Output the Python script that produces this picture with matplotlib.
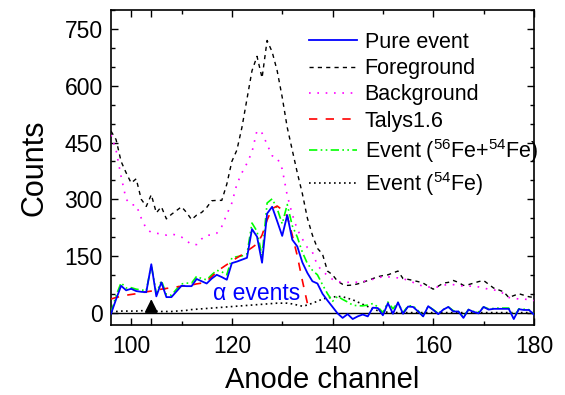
import numpy as np
import matplotlib
matplotlib.use("Agg")
import matplotlib.pyplot as plt
from matplotlib.ticker import MultipleLocator, FixedLocator

plt.rcParams['font.family'] = ['Liberation Sans', 'DejaVu Sans']
plt.rcParams['mathtext.fontset'] = 'custom'
plt.rcParams['mathtext.rm'] = 'Liberation Sans'
plt.rcParams['mathtext.it'] = 'Liberation Sans:italic'

# Anode channels 96..180
channels = np.arange(96, 181)

pure_event = [
    -3, 35, 71, 59, 63, 57, 55, 54, 128, 43,
    80, 41, 41, 56, 71, 70, 70, 89, 83, 77,
    90, 100, 94, 87, 131, 135, 140, 145, 221, 201,
    132, 262, 280, 242, 203, 258, 193, 175, 133, 105,
    83, 77, 50, 32, 15, -2, -14, -4, -17, -10,
    -5, -10, 13, 12, -7, 25, -3, 27, -3, 16,
    15, 3, -10, 17, 7, -4, 8, 15, 3, 3,
    -14, 8, 2, -2, 15, 8, 10, 10, 10, 10,
    -17, 9, 7, 7, -5,
]

foreground = [
    480, 458, 400, 370, 343, 354, 300, 281, 312, 264,
    280, 248, 260, 270, 280, 265, 246, 258, 265, 278,
    296, 297, 297, 340, 400, 430, 490, 565, 640, 678,
    621, 720, 690, 640, 570, 490, 430, 370, 315, 250,
    205, 170, 155, 110, 100, 83, 75, 72, 73, 76,
    80, 85, 90, 95, 98, 100, 105, 110, 90, 88,
    85, 82, 78, 70, 62, 70, 78, 80, 85, 80,
    72, 74, 78, 82, 85, 75, 65, 60, 55, 40,
    45, 50, 46, 42, 40,
]

background = [
    470, 430, 360, 300, 285, 285, 250, 222, 212, 210,
    208, 205, 208, 205, 200, 190, 180, 180, 195, 205,
    205, 210, 228, 260, 290, 340, 370, 395, 425, 482,
    475, 445, 415, 410, 380, 310, 260, 220, 195, 172,
    160, 125, 110, 98, 88, 82, 80, 80, 82, 80,
    82, 85, 88, 92, 95, 95, 92, 92, 90, 85,
    80, 74, 70, 68, 66, 68, 72, 75, 74, 72,
    70, 70, 70, 68, 65, 62, 60, 58, 50, 40,
    38, 36, 36, 34, 32,
]

event_56_54 = [
    0, 45, 79, 65, 66, 62, 60, 58, 125, 50,
    85, 48, 46, 62, 76, 78, 78, 96, 90, 87,
    100, 112, 108, 100, 145, 148, 150, 155, 237, 215,
    150, 290, 301, 275, 235, 286, 230, 200, 160, 130,
    112, 100, 74, 50, 30, 43, 35, 28, 20, 18,
    18, 20, 24, 15, 0, 28, 10, 27, 0, 18,
    18, 5, -10, 17, 8, -2, 8, 15, 5, 3,
    -12, 8, 3, 2, 15, 10, 11, 12, 12, 12,
    -15, 10, 9, 8, -4,
]

event_54 = [
    3, 3, 4, 4, 4, 4, 5, 5, 5, 4,
    3, 3, 3, 4, 5, 6, 8, 9, 10, 11,
    12, 13, 14, 15, 16, 17, 18, 19, 20, 21,
    22, 23, 24, 25, 25, 25, 23, 20, 17, 20,
    25, 30, 36, 39, 41, 43, 42, 38, 34, 28,
    22, 16, 10, 5, 2, 1, 0, 0, 0, 0,
    0, 0, 0, 0, 0, 0, 0, 0, 0, 0,
    0, 0, 0, 0, 0, 0, 0, 0, 0, 0,
    0, 0, 0, 0, 0,
]

# TALYS 1.6 calculation, channels 96..135
talys_channels = np.arange(96, 136)
talys = [
    36, 40, 43, 46, 48, 50, 52, 55, 57, 60,
    62, 64, 66, 68, 70, 72, 73, 76, 78, 83,
    95, 108, 118, 127, 136, 145, 153, 163, 172, 182,
    205, 245, 275, 282, 272, 255, 205, 150, 85, 25,
]

arrow_channel = 104
arrow_tip = 43

fig = plt.figure(figsize=(5.65, 3.95), dpi=100)
ax = fig.add_axes([0.1965, 0.177, 0.7485, 0.798])

ax.axhline(0, color='black', lw=1.0, zorder=1)

ax.plot(channels, pure_event, color='#0000ff', lw=1.3, label='Pure event', zorder=6)
ax.plot(channels, foreground, color='black', lw=1.0, ls=(0, (3, 3)), label='Foreground', zorder=3)
ax.plot(channels, background, color='#ff00ff', lw=1.2, ls=(0, (1, 4)), label='Background', zorder=3)
ax.plot(talys_channels, talys, color='#ff0000', lw=1.2, ls=(0, (5, 5)), label='Talys1.6', zorder=5)
ax.plot(channels, event_56_54, color='#00ff00', lw=1.2, ls=(0, (5, 2, 1, 2, 1, 2)),
        label='Event ($^{56}$Fe+$^{54}$Fe)', zorder=4)
ax.plot(channels, event_54, color='black', lw=1.2, ls=(0, (1, 2)),
        label='Event ($^{54}$Fe)', zorder=3)

ax.annotate('', xy=(arrow_channel, arrow_tip), xytext=(arrow_channel, 0),
            arrowprops=dict(arrowstyle='-|>,head_length=0.8,head_width=0.4',
                            color='black', lw=1.2), zorder=7)

ax.text(116.3, 33, 'α events', color='#0000ff', fontsize=16.5, va='baseline', ha='left')

ax.set_xlim(96, 180)
ax.set_ylim(-33, 801)
ax.xaxis.set_major_locator(FixedLocator([100, 104, 120, 140, 160, 180]))
ax.xaxis.set_minor_locator(FixedLocator([110, 130, 150, 170]))
ax.set_xticklabels(['100', '', '120', '140', '160', '180'])
ax.yaxis.set_major_locator(MultipleLocator(150))
ax.yaxis.set_minor_locator(MultipleLocator(50))

ax.tick_params(which='both', direction='in', top=True, right=True, labelsize=16.5,
               width=1.0, colors='black')
ax.tick_params(which='major', length=5)
ax.tick_params(which='minor', length=3)
ax.tick_params(axis='x', pad=7)
ax.tick_params(axis='y', pad=6)
for s in ax.spines.values():
    s.set_linewidth(1.2)

ax.set_xlabel('Anode channel', fontsize=21, labelpad=6)
ax.set_ylabel('Counts', fontsize=22, labelpad=11)

ax.legend(loc='upper left', bbox_to_anchor=(309 / 565, 1 - 32 / 395),
          bbox_transform=fig.transFigure, frameon=False, fontsize=15.5,
          handlelength=2.25, handletextpad=0.33, labelspacing=0.24,
          borderpad=0, borderaxespad=0)

fig.savefig('out.png', dpi=100)
